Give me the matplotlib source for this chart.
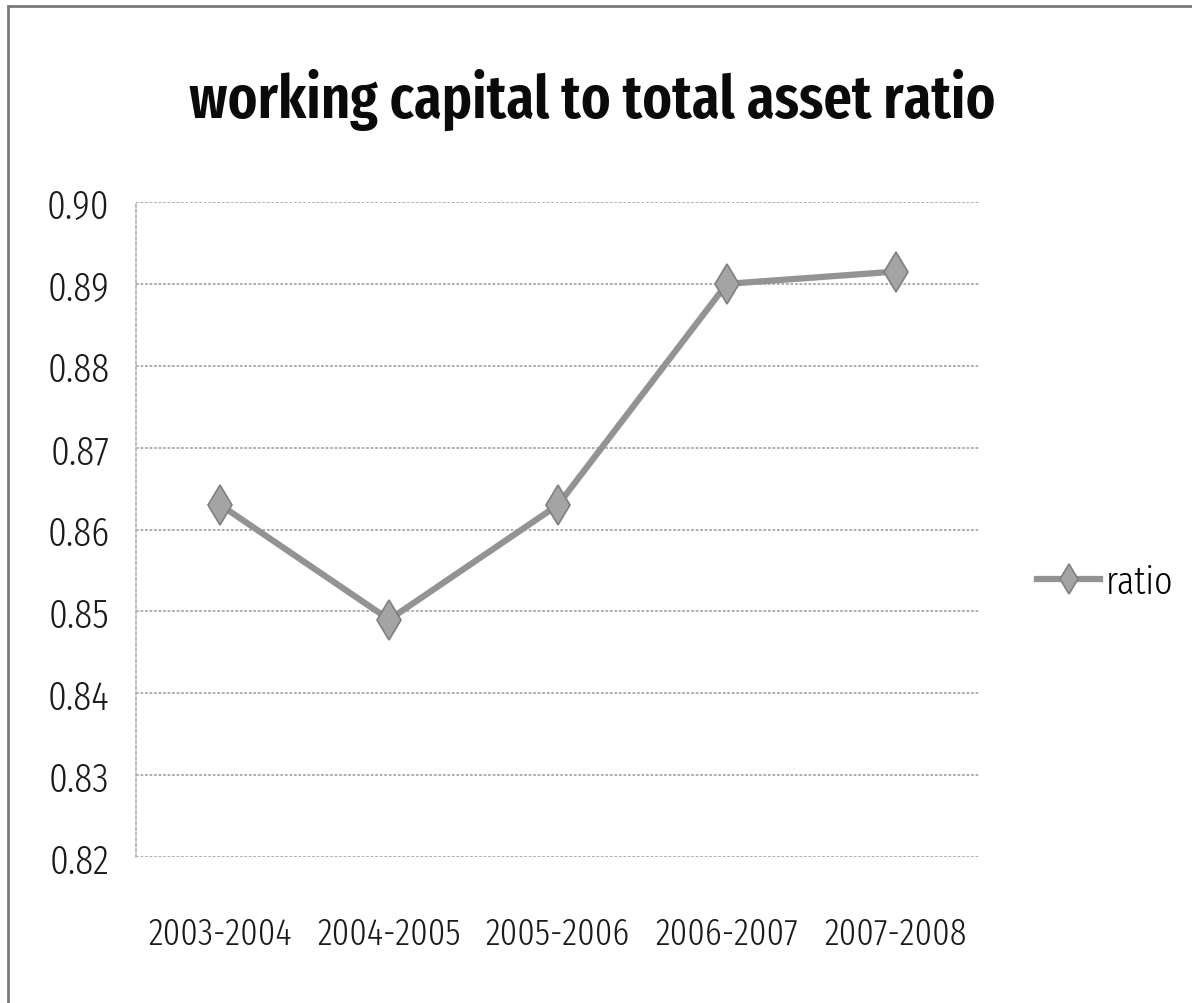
import matplotlib
matplotlib.use("Agg")
import matplotlib.pyplot as plt
from matplotlib.patches import Rectangle
from matplotlib.font_manager import FontProperties

years = ["2003-2004", "2004-2005", "2005-2006", "2006-2007", "2007-2008"]
ratio = [0.863, 0.849, 0.863, 0.890, 0.8915]
yticks = [0.82, 0.83, 0.84, 0.85, 0.86, 0.87, 0.88, 0.89, 0.90]

W, H = 1192, 1004
tick_font = FontProperties(family="Fira Sans Extra Condensed", weight=300, size=29)
xtick_font = FontProperties(family="Fira Sans Extra Condensed", weight=300, size=27)
legend_font = FontProperties(family="Fira Sans Extra Condensed", weight=300, size=28)
title_font = FontProperties(family="Fira Sans Extra Condensed", weight=600, size=44)

fig = plt.figure(figsize=(W / 100, H / 100), dpi=100)
fig.patch.set_facecolor("white")
fig.add_artist(Rectangle((8 / W, -0.01), 1.02, 1 - 7 / H + 0.01, transform=fig.transFigure,
                         fill=False, edgecolor="#7a7a7a", linewidth=2.0))

ax = fig.add_axes([136 / W, 1 - 858 / H, 844 / W, 655 / H])
x = list(range(len(years)))
line, = ax.plot(x, ratio, color="#939393", linewidth=4.5, marker="d", markersize=20,
                markerfacecolor="#a4a4a4", markeredgecolor="#808080", markeredgewidth=1.2,
                label="ratio", zorder=3)

ax.set_xlim(-0.5, len(years) - 0.5)
ax.set_ylim(0.82, 0.90)
ax.set_yticks(yticks)
ax.set_yticklabels([f"{v:.2f}" for v in yticks], fontproperties=tick_font, color="#1a1a1a")
ax.set_xticks(x)
ax.set_xticklabels(years, fontproperties=xtick_font, color="#1a1a1a")
ax.tick_params(axis="y", length=0, pad=19)
ax.tick_params(axis="x", length=0, pad=42)
ax.grid(axis="y", color="#a8a8a8", linestyle=(0, (1.5, 1)), linewidth=1.3)
ax.set_axisbelow(True)
for s in ["top", "right", "bottom"]:
    ax.spines[s].set_visible(False)
ax.spines["left"].set_color("#b8b8b8")
ax.spines["left"].set_linestyle((0, (1.5, 1.5)))
ax.spines["left"].set_linewidth(1.3)

fig.text(592 / W, 1 - 100 / H, "working capital to total asset ratio", ha="center",
         va="center", fontproperties=title_font, color="#0a0a0a")

fig.legend(handles=[line], loc="center left", bbox_to_anchor=(1018 / W, 1 - 583 / H),
           frameon=False, prop=legend_font, handlelength=1.6,
           handletextpad=0.15, markerscale=0.75, borderpad=0)

fig.savefig("out.png", dpi=100, facecolor="white")
